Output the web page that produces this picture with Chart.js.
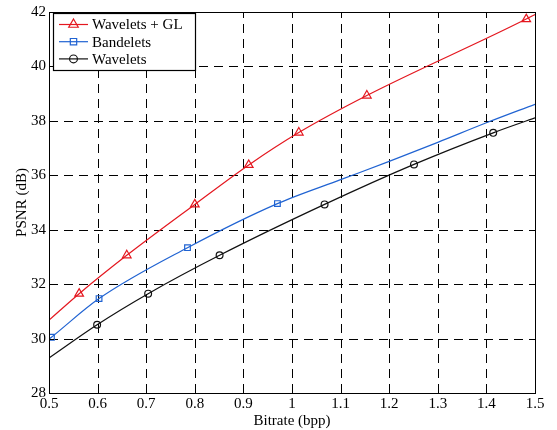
<!DOCTYPE html>
<html lang="en">
<head>
    <meta charset="UTF-8">
    <title>PSNR vs Bitrate</title>
    <script src="https://cdn.jsdelivr.net/npm/chart.js"></script>
    <style>
        html, body { margin: 0; padding: 0; background: #fff; }
        #wrap { width: 557px; height: 430px; position: relative; }
    </style>
</head>
<body>
    <div id="wrap"><canvas id="psnrChart"></canvas></div>

    <script>
        // data
        const seriesNames = ['Wavelets + GL', 'Bandelets', 'Wavelets'];

        const glX    = [0.5, 0.562, 0.66, 0.80, 0.911, 1.014, 1.154, 1.482, 1.5];
        const glY    = [30.68, 31.65, 33.06, 34.93, 36.38, 37.57, 38.93, 41.74, 41.91];
        const glMark = [0, 1, 1, 1, 1, 1, 1, 1, 0];

        const bandX    = [0.5, 0.505, 0.603, 0.785, 0.97, 1.1, 1.2, 1.3, 1.4, 1.5];
        const bandY    = [29.98, 30.05, 31.47, 33.34, 34.96, 35.84, 36.51, 37.21, 37.93, 38.61];
        const bandMark = [0, 1, 1, 1, 1, 0, 0, 0, 0, 0];

        const wavX    = [0.5, 0.599, 0.704, 0.851, 1.067, 1.251, 1.414, 1.5];
        const wavY    = [29.29, 30.51, 31.65, 33.06, 34.93, 36.40, 37.56, 38.11];
        const wavMark = [0, 1, 1, 1, 1, 1, 1, 0];

        const xTicks = [0.5, 0.6, 0.7, 0.8, 0.9, 1, 1.1, 1.2, 1.3, 1.4, 1.5];
        const yTicks = [28, 30, 32, 34, 36, 38, 40, 42];

        const colors = ['#e4171f', '#2063d2', '#111111'];
        const styles = ['triangle', 'rect', 'circle'];
        const radii  = [5, 4, 3.4];
        const serif = '"Liberation Serif", "Times New Roman", serif';

        function pts(xs, ys) {
            return xs.map((x, i) => ({ x: x, y: ys[i] }));
        }

        function makeSet(i, xs, ys, marks) {
            return {
                label: seriesNames[i],
                data: pts(xs, ys),
                borderColor: colors[i],
                borderWidth: 1.2,
                pointStyle: styles[i],
                pointRadius: marks.map(m => m ? radii[i] : 0),
                pointBorderColor: colors[i],
                pointBackgroundColor: 'rgba(0,0,0,0)',
                pointBorderWidth: 1.2,
                cubicInterpolationMode: 'monotone',
                fill: false
            };
        }

        // dashed grid under the lines
        const gridPlugin = {
            id: 'dashGrid',
            beforeDatasetsDraw(chart) {
                const ctx = chart.ctx;
                const a = chart.chartArea;
                const xs = chart.scales.x, ys = chart.scales.y;
                ctx.save();
                ctx.strokeStyle = '#000';
                ctx.lineWidth = 1;
                ctx.setLineDash([9, 6]);
                ctx.beginPath();
                xTicks.slice(1, -1).forEach(t => {
                    const p = Math.round(xs.getPixelForValue(t)) + 0.5;
                    ctx.moveTo(p, a.bottom); ctx.lineTo(p, a.top);
                });
                yTicks.slice(1, -1).forEach(t => {
                    const p = Math.round(ys.getPixelForValue(t)) + 0.5;
                    ctx.moveTo(a.left, p); ctx.lineTo(a.right, p);
                });
                ctx.stroke();
                ctx.restore();
            }
        };

        // frame, inward ticks and the legend box (MATLAB look)
        const framePlugin = {
            id: 'frame',
            afterDraw(chart) {
                const ctx = chart.ctx;
                const a = chart.chartArea;
                const xs = chart.scales.x, ys = chart.scales.y;
                ctx.save();
                ctx.strokeStyle = '#000';
                ctx.lineWidth = 1;
                ctx.setLineDash([]);
                ctx.strokeRect(Math.round(a.left) + 0.5, Math.round(a.top) + 0.5,
                    Math.round(a.right - a.left), Math.round(a.bottom - a.top));
                ctx.beginPath();
                xTicks.forEach(t => {
                    const p = Math.round(xs.getPixelForValue(t)) + 0.5;
                    ctx.moveTo(p, a.bottom); ctx.lineTo(p, a.bottom - 5);
                    ctx.moveTo(p, a.top); ctx.lineTo(p, a.top + 5);
                });
                yTicks.forEach(t => {
                    const p = Math.round(ys.getPixelForValue(t)) + 0.5;
                    ctx.moveTo(a.left, p); ctx.lineTo(a.left + 5, p);
                    ctx.moveTo(a.right, p); ctx.lineTo(a.right - 5, p);
                });
                ctx.stroke();

                // legend
                const bx = 53, by = 13, bw = 142, bh = 57;
                ctx.fillStyle = '#fff';
                ctx.fillRect(bx, by, bw, bh);
                ctx.lineWidth = 1.2;
                ctx.strokeStyle = '#000';
                ctx.strokeRect(bx + 0.5, by + 0.5, bw, bh);
                ctx.font = '15px ' + serif;
                ctx.textBaseline = 'middle';
                seriesNames.forEach((name, i) => {
                    const cy = 24.5 + i * 17.2;
                    ctx.strokeStyle = colors[i];
                    ctx.lineWidth = 1.2;
                    ctx.beginPath();
                    ctx.moveTo(59, cy); ctx.lineTo(88, cy);
                    ctx.stroke();
                    ctx.fillStyle = 'rgba(0,0,0,0)';
                    Chart.helpers.drawPoint(ctx, {
                        pointStyle: styles[i], radius: radii[i] + 0.5, rotation: 0, borderWidth: 1.2
                    }, 73.5, cy);
                    ctx.fillStyle = '#000';
                    ctx.fillText(name, 92, cy + 1);
                });
                ctx.restore();
            }
        };

        const ctx = document.getElementById('psnrChart').getContext('2d');
        const chart = new Chart(ctx, {
            type: 'line',
            data: {
                datasets: [
                    makeSet(0, glX, glY, glMark),
                    makeSet(1, bandX, bandY, bandMark),
                    makeSet(2, wavX, wavY, wavMark)
                ]
            },
            options: {
                responsive: true,
                maintainAspectRatio: false,
                animation: false,
                layout: { padding: { top: 10, right: 22, left: 0, bottom: 0 } },
                plugins: { legend: { display: false }, tooltip: { enabled: false } },
                scales: {
                    x: {
                        type: 'linear',
                        min: 0.5, max: 1.5,
                        afterBuildTicks: s => { s.ticks = xTicks.map(v => ({ value: v })); },
                        afterFit: s => { s.height = 37; },
                        ticks: {
                            color: '#000',
                            font: { family: serif, size: 15 },
                            padding: 2,
                            maxRotation: 0,
                            callback: v => String(v)
                        },
                        grid: { display: false, drawTicks: false },
                        border: { display: false },
                        title: {
                            display: true, text: 'Bitrate (bpp)', color: '#000',
                            font: { family: serif, size: 15 }, padding: { top: -2, bottom: 0 }
                        }
                    },
                    y: {
                        min: 28, max: 42,
                        afterBuildTicks: s => { s.ticks = yTicks.map(v => ({ value: v })); },
                        afterFit: s => { s.width = 49; },
                        ticks: {
                            color: '#000',
                            font: { family: serif, size: 15 },
                            padding: 3
                        },
                        grid: { display: false, drawTicks: false },
                        border: { display: false },
                        title: {
                            display: true, text: 'PSNR (dB)', color: '#000',
                            font: { family: serif, size: 15 }, padding: { top: 13, bottom: 0 }
                        }
                    }
                }
            },
            plugins: [gridPlugin, framePlugin]
        });
    </script>
</body>
</html>
